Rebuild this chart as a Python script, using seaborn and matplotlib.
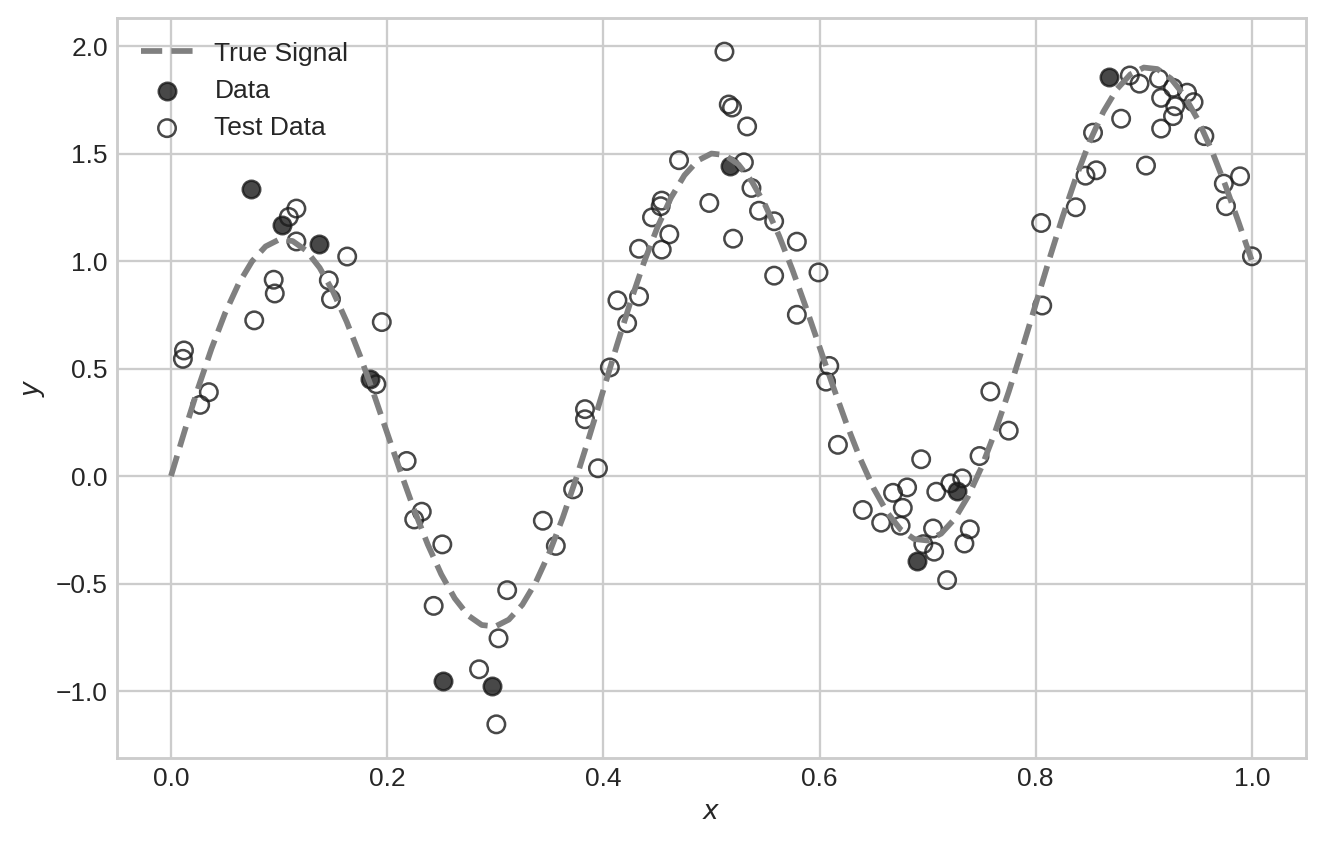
import numpy as np
import pandas as pd
import matplotlib
matplotlib.use("Agg")
import matplotlib.pyplot as plt
import seaborn as sns

# True signal (81 samples from x=0 to x=1)
signal_y = [0.000, 0.208, 0.408, 0.593, 0.757, 0.894, 0.999, 1.068, 1.100, 1.093,
            1.049, 0.969, 0.857, 0.718, 0.558, 0.383, 0.200, 0.017, -0.158, -0.318,
            -0.457, -0.569, -0.649, -0.693, -0.700, -0.668, -0.599, -0.494, -0.357, -0.193,
            -0.008, 0.192, 0.400, 0.608, 0.808, 0.993, 1.157, 1.294, 1.399, 1.468,
            1.500, 1.493, 1.449, 1.369, 1.257, 1.118, 0.958, 0.783, 0.600, 0.417,
            0.242, 0.082, -0.057, -0.169, -0.249, -0.293, -0.300, -0.268, -0.199, -0.094,
            0.043, 0.207, 0.392, 0.592, 0.800, 1.008, 1.208, 1.393, 1.557, 1.694,
            1.799, 1.868, 1.900, 1.893, 1.849, 1.769, 1.657, 1.518, 1.358, 1.183,
            1.000]
signal_x = np.linspace(0, 1, len(signal_y))

# Training data (filled markers)
data_x = [0.074, 0.103, 0.137, 0.184, 0.252, 0.297, 0.517, 0.690, 0.727, 0.868]
data_y = [1.337, 1.166, 1.079, 0.450, -0.953, -0.978, 1.441, -0.394, -0.068, 1.857]

# Test data (open markers)
test_x = [0.012, 0.011, 0.027, 0.035, 0.077, 0.095, 0.096, 0.109, 0.116, 0.116,
          0.146, 0.148, 0.163, 0.190, 0.195, 0.218, 0.225, 0.232, 0.243, 0.251,
          0.285, 0.301, 0.303, 0.311, 0.344, 0.356, 0.372, 0.383, 0.383, 0.395,
          0.406, 0.413, 0.422, 0.433, 0.433, 0.445, 0.453, 0.454, 0.454, 0.461,
          0.470, 0.498, 0.512, 0.516, 0.519, 0.520, 0.530, 0.533, 0.537, 0.544,
          0.558, 0.558, 0.579, 0.579, 0.599, 0.606, 0.609, 0.617, 0.640, 0.657,
          0.668, 0.675, 0.677, 0.681, 0.694, 0.696, 0.705, 0.706, 0.708, 0.718,
          0.721, 0.732, 0.734, 0.739, 0.748, 0.758, 0.775, 0.805, 0.806, 0.837,
          0.846, 0.853, 0.856, 0.879, 0.887, 0.896, 0.902, 0.914, 0.916, 0.916,
          0.927, 0.927, 0.929, 0.940, 0.946, 0.956, 0.974, 0.976, 0.989, 1.000]
test_y = [0.584, 0.545, 0.331, 0.390, 0.724, 0.913, 0.849, 1.205, 1.244, 1.091,
          0.910, 0.823, 1.021, 0.427, 0.716, 0.070, -0.202, -0.166, -0.604, -0.318,
          -0.899, -1.155, -0.755, -0.531, -0.208, -0.325, -0.062, 0.311, 0.264, 0.036,
          0.505, 0.817, 0.711, 0.835, 1.057, 1.203, 1.255, 1.281, 1.053, 1.124,
          1.469, 1.270, 1.974, 1.728, 1.714, 1.104, 1.459, 1.626, 1.340, 1.234,
          1.185, 0.932, 1.090, 0.750, 0.947, 0.439, 0.512, 0.145, -0.158, -0.217,
          -0.078, -0.231, -0.148, -0.053, 0.078, -0.317, -0.244, -0.352, -0.073, -0.484,
          -0.034, -0.011, -0.314, -0.248, 0.093, 0.393, 0.211, 1.177, 0.793, 1.250,
          1.397, 1.597, 1.422, 1.662, 1.863, 1.825, 1.444, 1.848, 1.759, 1.616,
          1.806, 1.674, 1.720, 1.783, 1.739, 1.581, 1.360, 1.255, 1.394, 1.022]

sns.set_theme(style="whitegrid")
plt.rcParams['font.family'] = ['Liberation Sans', 'DejaVu Sans']

fs = 11.5
dpi = 165
fig = plt.figure(figsize=(1326 / dpi, 845 / dpi), dpi=dpi)
ax = fig.add_axes([0.0882, 0.103, 0.8967, 0.8757])

sns.lineplot(x=signal_x, y=signal_y, ax=ax, color='gray', linewidth=2.5,
             linestyle='--', label='True Signal')
signal_line = ax.lines[0]
signal_line.set_linewidth(2.5)
signal_line.set_linestyle('--')

sns.scatterplot(x=data_x, y=data_y, ax=ax, color='k', alpha=0.8, s=58,
                edgecolor='k', linewidth=1.1, label='Data')
sns.scatterplot(x=test_x, y=test_y, ax=ax, facecolor='none', alpha=0.8, s=58,
                edgecolor='k', linewidth=1.1, label='Test Data')

ax.set_xlabel('$x$', fontsize=fs, labelpad=4)
ax.set_ylabel('$y$', fontsize=fs, labelpad=4)
ax.tick_params(labelsize=fs, length=0, pad=4)
ax.legend(loc='upper left', frameon=False, fontsize=fs)

fig.savefig('out.png', dpi=dpi)
